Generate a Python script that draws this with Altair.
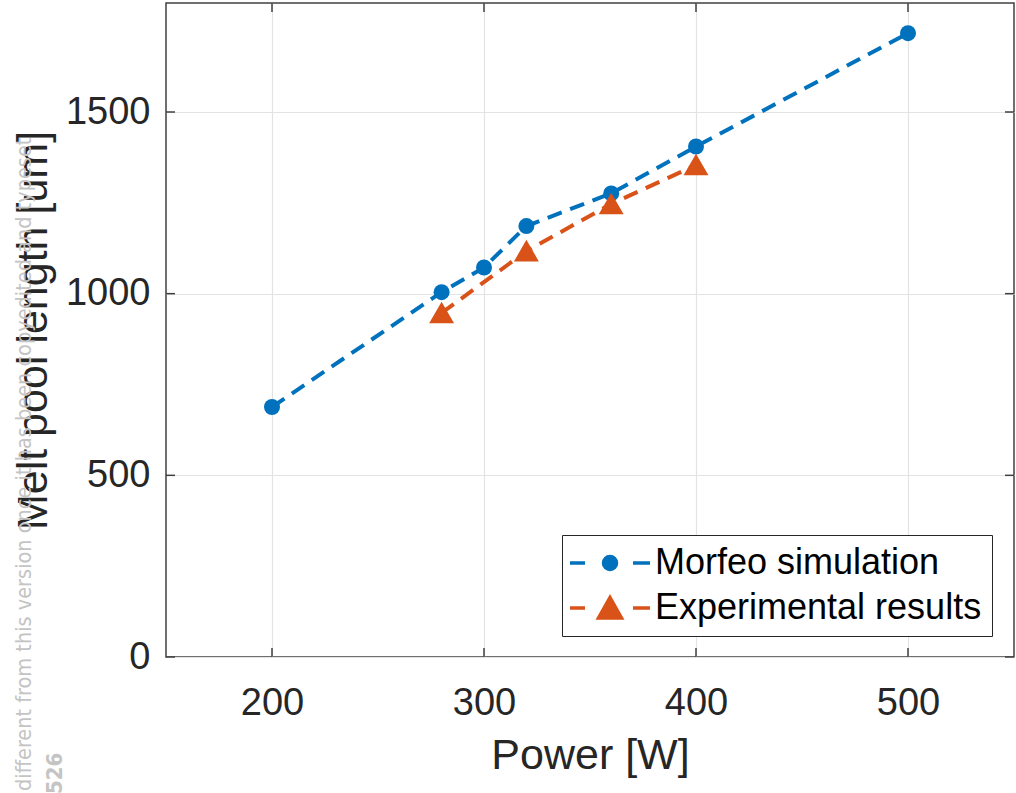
import altair as alt
import pandas as pd

# ---- data ----
sim_power = [200, 280, 300, 320, 360, 400, 500]
sim_length = [688, 1004, 1072, 1186, 1276, 1405, 1717]
exp_power = [280, 320, 360, 400]
exp_length = [947, 1117, 1247, 1354]
series_names = ["Morfeo simulation", "Experimental results"]
series_colors = ["#0072BD", "#D95319"]
x_ticks = [200, 300, 400, 500]
y_ticks = [0, 500, 1000, 1500]
watermark = "different from this version once it has been copyedited and typeset"
watermark2 = "526"

FONT = "Liberation Sans"
W, H = 848, 654

sim = pd.DataFrame({"power": sim_power, "length": sim_length, "series": series_names[0]})
exp = pd.DataFrame({"power": exp_power, "length": exp_length, "series": series_names[1]})
both = pd.concat([sim, exp], ignore_index=True)

xs = alt.Scale(domain=[150, 550], nice=False, zero=False)
ys = alt.Scale(domain=[0, 1800], nice=False)

X = alt.X("power:Q", scale=xs,
          axis=alt.Axis(title="Power [W]", values=x_ticks, grid=True, ticks=False, format="d",
                        domain=False, labelPadding=27, titlePadding=12,
                        labelFontSize=38, titleFontSize=43, labelFlush=False))
Y = alt.Y("length:Q", scale=ys,
          axis=alt.Axis(title="Melt pool length [um]", values=y_ticks, grid=True, ticks=False,
                        format="d", domain=False, labelPadding=16, titlePadding=10,
                        labelFontSize=38, titleFontSize=43, labelFlush=False))

dash = [15, 9]

base_axes = alt.Chart(both).mark_point(opacity=0).encode(x=X, y=Y)

sim_line = alt.Chart(sim).mark_line(color=series_colors[0], strokeWidth=4, strokeDash=dash).encode(
    x="power:Q", y="length:Q")
exp_line = alt.Chart(exp).mark_line(color=series_colors[1], strokeWidth=4, strokeDash=dash).encode(
    x="power:Q", y="length:Q")
sim_pts = alt.Chart(sim).mark_point(shape="circle", filled=True, size=256, opacity=1,
                                    color=series_colors[0]).encode(x="power:Q", y="length:Q")
exp_pts = alt.Chart(exp).mark_point(shape="triangle-up", filled=True, size=460, opacity=1,
                                    color=series_colors[1], stroke=series_colors[1],
                                    strokeWidth=2).encode(x="power:Q", y="length:Q")

# legend symbols: dash - marker - dash, as custom paths (units of 10 px)
circ_path = ("M-2.0,0H-0.5M4.3,0H6.0"
             "M1.35,0A0.65,0.65,0,1,1,2.65,0A0.65,0.65,0,1,1,1.35,0Z")
tri_path = ("M-2.0,0H-0.5M4.3,0H6.0"
            "M2.0,-1.05L3.15,1.0L0.85,1.0Z")

leg = alt.Legend(title=None, orient="none", legendX=396, legendY=532,
                 symbolSize=400, symbolStrokeWidth=3.5, symbolOpacity=1,
                 labelFontSize=36, labelColor="#000000", labelFont=FONT,
                 labelOffset=47, padding=10, rowPadding=9,
                 strokeColor="#262626", fillColor="#ffffff", labelLimit=600)

legend_layer = alt.Chart(both).mark_point(filled=True, opacity=0).encode(
    x="power:Q", y="length:Q",
    fill=alt.Fill("series:N", scale=alt.Scale(domain=series_names, range=series_colors),
                  legend=leg, sort=series_names),
    stroke=alt.Stroke("series:N", scale=alt.Scale(domain=series_names, range=series_colors),
                      legend=leg, sort=series_names),
    shape=alt.Shape("series:N", scale=alt.Scale(domain=series_names, range=[circ_path, tri_path]),
                    legend=leg, sort=series_names),
)

# inner tick marks (MATLAB style box ticks)
xt = pd.DataFrame({"t": x_ticks})
yt = pd.DataFrame({"t": y_ticks})
tick_col = "#404040"
xt_bot = alt.Chart(xt).mark_rule(color=tick_col, strokeWidth=1.5).encode(
    x="t:Q", y=alt.value(H), y2=alt.value(H - 9))
xt_top = alt.Chart(xt).mark_rule(color=tick_col, strokeWidth=1.5).encode(
    x="t:Q", y=alt.value(0), y2=alt.value(9))
yt_left = alt.Chart(yt).mark_rule(color=tick_col, strokeWidth=1.5).encode(
    y="t:Q", x=alt.value(0), x2=alt.value(9))
yt_right = alt.Chart(yt).mark_rule(color=tick_col, strokeWidth=1.5).encode(
    y="t:Q", x=alt.value(W), x2=alt.value(W - 9))

wm = alt.Chart(pd.DataFrame({"t": [watermark]})).mark_text(
    angle=270, align="left", baseline="alphabetic", fontSize=21.5,
    font="DejaVu Sans Condensed", color="#c4c4c4").encode(
    text="t:N", x=alt.value(-135), y=alt.value(788))
wm2 = alt.Chart(pd.DataFrame({"t": [watermark2]})).mark_text(
    angle=270, align="left", baseline="alphabetic", fontSize=22, fontWeight="bold",
    font="DejaVu Sans Condensed", color="#c4c4c4").encode(
    text="t:N", x=alt.value(-104), y=alt.value(791))

chart = alt.layer(
    base_axes, legend_layer, xt_bot, xt_top, yt_left, yt_right,
    sim_line, exp_line, sim_pts, exp_pts, wm, wm2
).properties(
    width=W, height=H,
    autosize=alt.AutoSizeParams(type="none"),
    padding={"left": 166, "top": 3, "right": 2, "bottom": 136},
).configure(
    font=FONT,
    background="#ffffff",
).configure_view(
    stroke="#404040", strokeWidth=1.5,
).configure_axis(
    gridColor="#e3e3e3", gridWidth=1.2, gridOpacity=1,
    labelColor="#262626", titleColor="#262626",
    labelFont=FONT, titleFont=FONT, titleFontWeight="normal",
)

chart.save("out.html", embed_options={"renderer": "svg", "actions": False})
